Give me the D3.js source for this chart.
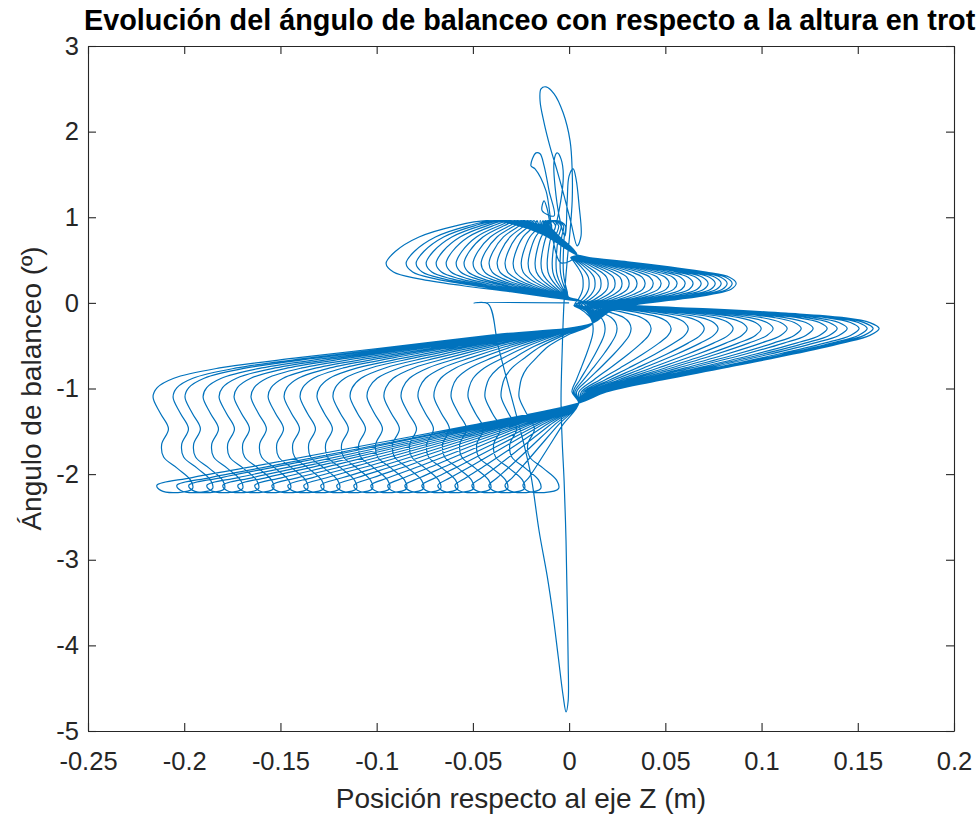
<!DOCTYPE html>
<html>
<head>
<meta charset="utf-8">
<script src="https://cdn.jsdelivr.net/npm/d3@7"></script>
<style>
  body { margin: 0; background: #fff; }
  svg { display: block; font-family: "Liberation Sans", Arial, Helvetica, sans-serif; }
</style>
</head>
<body>
<svg id="chart" width="979" height="816"></svg>
<script>
// Tick values of both axes
const xTicks = [-0.25, -0.2, -0.15, -0.1, -0.05, 0, 0.05, 0.1, 0.15, 0.2];
const yTicks = [-5, -4, -3, -2, -1, 0, 1, 2, 3];

// Outermost position (m) reached by each trot cycle in each of its four lobes
const upperLeftTips = [-0.0031, -0.0047, -0.0068, -0.0088, -0.0114, -0.0146, -0.0177, -0.0213,
  -0.0249, -0.0291, -0.0333, -0.0374, -0.0416, -0.0457, -0.0499, -0.0546, -0.0587, -0.0639,
  -0.0691, -0.0743, -0.0795, -0.0847, -0.0951];
const lowerRightTips = [0.0125, 0.0187, 0.0249, 0.0322, 0.0426, 0.0530, 0.0619, 0.0702,
  0.0774, 0.0852, 0.0925, 0.0998, 0.1060, 0.1133, 0.1206, 0.1268, 0.1341, 0.1393, 0.1445,
  0.1507, 0.1549, 0.1580, 0.1611];
const lowerLeftTips = [-0.0260, -0.0353, -0.0437, -0.0525, -0.0613, -0.0702, -0.0785, -0.0873,
  -0.0962, -0.1050, -0.1138, -0.1227, -0.1310, -0.1398, -0.1481, -0.1564, -0.1653, -0.1741,
  -0.1819, -0.1902, -0.1996, -0.2058, -0.2162];
const upperRightTips = [0.0073, 0.0104, 0.0135, 0.0166, 0.0203, 0.0239, 0.0275, 0.0312,
  0.0353, 0.0395, 0.0437, 0.0478, 0.0520, 0.0561, 0.0603, 0.0644, 0.0686, 0.0722, 0.0759,
  0.0790, 0.0821, 0.0847, 0.0868];

// Lobe outlines: [share of the cycle's tip position, extra offset (m), roll angle (º)]
const upperLeftLobe = [
  [0, 0.004, 0.56], [0.08, -0.006, 0.80], [0.2, -0.010, 0.92], [0.4, -0.005, 0.96],
  [0.62, 0, 0.90], [0.82, 0, 0.77], [0.95, 0, 0.60], [1, 0, 0.46], [0.96, 0, 0.36],
  [0.82, 0, 0.28], [0.58, 0, 0.20], [0.32, 0, 0.13], [0.12, 0, 0.07]
];
const lowerRightLobe = [
  [0, 0.006, 0.02], [0.2, 0, -0.03], [0.45, 0, -0.07], [0.7, 0, -0.12], [0.88, 0, -0.17],
  [0.97, 0, -0.23], [1, 0, -0.30], [0.97, 0, -0.38], [0.88, 0, -0.47], [0.72, 0, -0.60],
  [0.5, 0, -0.76], [0.3, 0, -0.90], [0.12, 0, -1.04], [0, 0.005, -1.17]
];
const lowerLeftLobe = [
  [0.25, 0.003, -1.43], [0.5, 0.003, -1.66], [0.75, 0.003, -1.89], [0.92, 0.003, -2.04],
  [1, 0.002, -2.13], [1, 0.004, -2.19], [1, 0.013, -2.215], [1, 0.0205, -2.17],
  [1, 0.0195, -2.07], [1, 0.0125, -1.93], [1, 0.0055, -1.80], [1, 0.0045, -1.65],
  [1, 0.008, -1.47], [1, 0.0038, -1.29], [1, 0, -1.10], [0.99, 0, -0.99],
  [0.95, 0, -0.88], [0.84, 0, -0.76], [0.65, 0, -0.64], [0.42, 0, -0.51],
  [0.2, 0.005, -0.37], [0, 0.012, -0.24]
];
const upperRightLobe = [
  [0.15, 0.008, -0.10], [0.4, 0, -0.02], [0.65, 0, 0.04], [0.85, 0, 0.10], [0.97, 0, 0.16],
  [1, 0, 0.23], [0.96, 0, 0.30], [0.82, 0, 0.36], [0.6, 0, 0.42], [0.35, 0, 0.48],
  [0.12, 0, 0.53]
];

// Start-up transient before the gait settles: [position (m), roll angle (º)]
const startTrace = [
  [0, 0], [-0.0494, 0], [-0.0421, -0.012], [-0.0369, -0.502], [-0.0301, -1.086],
  [-0.0239, -1.612], [-0.0198, -2.021], [-0.0156, -2.664], [-0.0114, -3.189],
  [-0.0083, -3.657], [-0.0057, -4.124], [-0.0031, -4.591], [-0.0016, -4.778],
  [-0.0005, -4.650], [-0.0005, -4.182], [-0.001, -3.481], [-0.0016, -2.780],
  [-0.0026, -2.079], [-0.0036, -1.612], [-0.0042, -1.145], [-0.0036, -0.561],
  [-0.0026, 0.023], [-0.001, 0.491], [0.0005, 0.841], [0.0016, 1.192], [0.0016, 1.542],
  [0.0005, 1.893], [-0.0031, 2.220], [-0.0078, 2.442], [-0.012, 2.523], [-0.0146, 2.50],
  [-0.0151, 2.36], [-0.013, 2.103], [-0.0099, 1.822], [-0.0062, 1.542], [-0.0026, 1.25],
  [0.001, 0.935], [0.0042, 0.666], [0.0062, 0.783], [0.0052, 1.133], [0.0036, 1.449],
  [0.0021, 1.565], [0, 1.484], [-0.001, 1.192], [-0.0021, 0.783], [-0.0052, 1.016],
  [-0.0078, 1.659], [-0.0062, 1.752], [-0.0042, 1.682], [-0.0031, 1.425],
  [-0.0083, 0.841], [-0.012, 1.308], [-0.0177, 1.565], [-0.0198, 1.60], [-0.0172, 1.752],
  [-0.0151, 1.741], [-0.013, 1.60], [-0.0104, 1.308], [-0.0078, 1.016], [-0.014, 1.075],
  [-0.013, 1.192], [-0.0114, 1.098], [-0.0083, 0.724], [-0.0042, 0.467]
];

const L = 88, R = 954, T = 46, B = 731;
const svg = d3.select("#chart");
const axisColor = "#262626";
const lineColor = "#0072BD";

const x = d3.scaleLinear().domain([-0.25, 0.2]).range([L, R]);
const y = d3.scaleLinear().domain([-5, 3]).range([B, T]);

// Assemble the trajectory: start-up, then every cycle through its four lobes
const trace = startTrace.slice();
const lobes = [
  [upperLeftTips, upperLeftLobe],
  [lowerRightTips, lowerRightLobe],
  [lowerLeftTips, lowerLeftLobe],
  [upperRightTips, upperRightLobe]
];
for (let i = 0; i < lowerLeftTips.length; i++) {
  for (const [tips, shape] of lobes) {
    for (const [share, offset, angle] of shape) {
      trace.push([share * tips[i] + offset, angle]);
    }
  }
}
trace.push([0.004, 0.56]);

svg.append("clipPath").attr("id", "plotArea")
  .append("rect").attr("x", L).attr("y", T).attr("width", R - L).attr("height", B - T);

const line = d3.line()
  .x(d => x(d[0]))
  .y(d => y(d[1]))
  .curve(d3.curveCatmullRom.alpha(0.5));

svg.append("path")
  .datum(trace)
  .attr("clip-path", "url(#plotArea)")
  .attr("fill", "none")
  .attr("stroke", lineColor)
  .attr("stroke-width", 1.2)
  .attr("stroke-linejoin", "round")
  .attr("d", line);

// Axes: ticks point inwards on all four sides; labels use a plain hyphen for negatives
const fmt = d => String(+d.toFixed(4));
const tick = 8;

const gx = svg.append("g").attr("transform", `translate(0,${B})`)
  .call(d3.axisBottom(x).tickValues(xTicks).tickSizeInner(-tick).tickSizeOuter(0).tickFormat(fmt));
gx.selectAll("text").attr("y", 21).attr("dy", "0.71em");

const gy = svg.append("g").attr("transform", `translate(${L},0)`)
  .call(d3.axisLeft(y).tickValues(yTicks).tickSizeInner(-tick).tickSizeOuter(0).tickFormat(fmt));
gy.selectAll("text").attr("x", -9);

svg.append("g").attr("transform", `translate(0,${T})`)
  .call(d3.axisTop(x).tickValues(xTicks).tickSizeInner(-tick).tickSizeOuter(0).tickFormat(""));
svg.append("g").attr("transform", `translate(${R},0)`)
  .call(d3.axisRight(y).tickValues(yTicks).tickSizeInner(-tick).tickSizeOuter(0).tickFormat(""));

svg.selectAll(".domain, .tick line").attr("stroke", axisColor).attr("stroke-width", 1.1);
svg.selectAll(".tick text")
  .attr("fill", axisColor)
  .style("font-family", '"Liberation Sans", Arial, Helvetica, sans-serif')
  .style("font-size", "25.5px");

// Titles
svg.append("text")
  .attr("x", 84).attr("y", 30)
  .attr("fill", "#000")
  .style("font-weight", "bold").style("font-size", "28.8px")
  .text("Evolución del ángulo de balanceo con respecto a la altura en trot");

svg.append("text")
  .attr("x", (L + R) / 2).attr("y", 808)
  .attr("text-anchor", "middle").attr("fill", axisColor)
  .style("font-size", "28px")
  .text("Posición respecto al eje Z (m)");

svg.append("text")
  .attr("transform", `translate(41,${(T + B) / 2}) rotate(-90)`)
  .attr("text-anchor", "middle").attr("fill", axisColor)
  .style("font-size", "28px")
  .text("Ángulo de balanceo (º)");
</script>
</body>
</html>
